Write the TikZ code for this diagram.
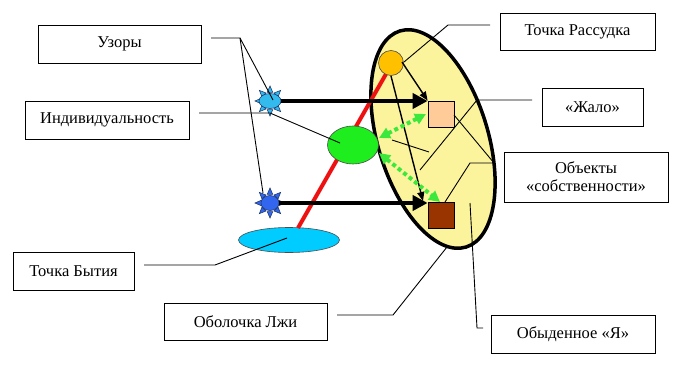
\documentclass[tikz,border=0pt]{standalone}
\usepackage{fontspec}
\setmainfont{Liberation Serif}
\newfontfamily\tnr{Liberation Serif}
\usetikzlibrary{arrows.meta,shapes.geometric,calc}
\definecolor{shellfill}{HTML}{FBF49C}
\definecolor{orangec}{HTML}{FFC000}
\definecolor{peach}{HTML}{FFCC99}
\definecolor{brownc}{HTML}{993300}
\definecolor{greenc}{HTML}{1EEE1E}
\definecolor{cyanc}{HTML}{00CCFF}
\definecolor{redc}{HTML}{EE1111}
\definecolor{greendot}{HTML}{3CE83C}
\definecolor{starA}{HTML}{33BBEE}
\definecolor{starB}{HTML}{3366EE}
\definecolor{starline}{HTML}{1F3A70}
\tikzset{
  lbl/.style={draw=black, line width=0.9pt, rectangle, inner sep=0pt, align=center,
    font=\tnr\fontsize{16.5}{20}\selectfont},
  leader/.style={draw=black, line width=0.9pt},
  thickarrow/.style={draw=black, line width=4.5pt, -{Triangle[length=15pt,width=15pt]}},
  thinarrow/.style={draw=black, line width=1.4pt, -{Triangle[length=9pt,width=7pt]}},
  greenarrow/.style={draw=greendot, line width=4pt, dash pattern=on 4pt off 3pt,
    {Triangle[length=11pt,width=11pt]}-{Triangle[length=11pt,width=11pt]}},
  startri/.style={line width=0.6pt, line join=miter},
}
\newcommand{\mystar}[4]{%
  \foreach \k in {0,45,...,315} {
    \filldraw[startri, fill=#3, draw=#4]
      ($(#1,#2)+(\k+18:9)$) -- ($(#1,#2)+(\k:15)$) -- ($(#1,#2)+(\k-18:9)$) -- cycle;
  }%
}
\begin{document}
\begin{tikzpicture}[x=1pt,y=-1pt]
\useasboundingbox (0,0) rectangle (684,366);
\fill[white] (0,0) rectangle (684,366);

% big shell (Обыденное Я)
\draw[fill=shellfill, line width=3.5pt, rotate around={17:(433,139)}]
  (433,139) ellipse [x radius=55, y radius=113];

% shape nodes
\node[ellipse, fill=cyanc, draw=black!70, line width=0.6pt, minimum width=101pt, minimum height=25pt, inner sep=0pt] (being) at (289,240) {};
\coordinate (beingtop) at (298,228);
\coordinate (reasonbot) at (386,74);
\draw[redc, line width=4pt] (beingtop) -- (reasonbot);
\node[circle, fill=orangec, draw=black!70, line width=0.6pt, minimum size=25pt, inner sep=0pt] (reason) at (391,63) {};
\node[ellipse, fill=greenc, draw=black!70, line width=0.6pt, minimum width=51pt, minimum height=38pt, inner sep=0pt] (indiv) at (353,145) {};
\node[rectangle, fill=peach, draw=black, line width=0.7pt, minimum size=26pt, inner sep=0pt] (sting) at (441,114) {};
\node[rectangle, fill=brownc, draw=black, line width=0.7pt, minimum size=26pt, inner sep=0pt] (prop) at (441,215) {};

% stars
\mystar{270}{101}{starA}{starline}
\node[ellipse, fill=starA, draw=starline, line width=0.6pt, minimum width=22pt, minimum height=15pt, inner sep=0pt] (star1) at (270,101) {};
\mystar{270}{203}{starB}{starline}
\node[ellipse, fill=starB, draw=starline, line width=0.6pt, minimum width=18pt, minimum height=15pt, inner sep=0pt] (star2) at (270,203) {};

% arrows
\draw[thickarrow] (star1.east) -- (sting.west |- star1.east);
\draw[thickarrow] (star2.east) -- (prop.west |- star2.east);
\coordinate (r1) at (402,62);
\coordinate (r2) at (391,76);
\draw[thinarrow] (r1) -- (sting.north west);
\coordinate (p2) at (423,201);
\draw[thinarrow] (r2) -- (p2);
\coordinate (g1a) at (379,138);
\coordinate (g1b) at (426,114);
\coordinate (g2a) at (379,153);
\coordinate (g2b) at (440,202);
\draw[greenarrow] (g1a) -- (g1b);
\draw[greenarrow] (g2a) -- (g2b);

% label boxes
\node[lbl, minimum width=163pt, minimum height=38pt] (uzory) at (119.5,44) {Узоры};
\node[lbl, minimum width=164pt, minimum height=38pt] (individ) at (107,120) {Индивидуальность};
\node[lbl, minimum width=121pt, minimum height=38pt] (tbytia) at (73.5,271) {Точка Бытия};
\node[lbl, minimum width=163pt, minimum height=37pt] (lzhi) at (245.5,321.5) {Оболочка Лжи};
\node[lbl, minimum width=155pt, minimum height=37pt] (trass) at (577.5,31.5) {Точка Рассудка};
\node[lbl, minimum width=101pt, minimum height=38pt] (zhalo) at (592.5,107) {«Жало»};
\node[lbl, minimum width=164pt, minimum height=50pt] (obj) at (586,177) {Объекты\\[-2pt]«собственности»};
\node[lbl, minimum width=164pt, minimum height=38pt] (obyd) at (573,334) {Обыденное «Я»};

% leaders
\coordinate (uz0) at (211,38); \coordinate (uz1) at (240,38);
\coordinate (s1p) at (273,100); \coordinate (s2p) at (263,193);
\draw[leader] (uz0) -- (uz1) -- (s1p);
\draw[leader] (uz1) -- (s2p);
\coordinate (in0) at (199,113); \coordinate (in1) at (270,113); \coordinate (in2) at (340,143);
\draw[leader] (in0) -- (in1) -- (in2);
\coordinate (tb0) at (144,265); \coordinate (tb1) at (215,265); \coordinate (tb2) at (287,238);
\draw[leader] (tb0) -- (tb1) -- (tb2);
\coordinate (lz0) at (337,315); \coordinate (lz1) at (393,315); \coordinate (lz2) at (447,247);
\draw[leader] (lz0) -- (lz1) -- (lz2);
\coordinate (tr0) at (490,25); \coordinate (tr1) at (448,25); \coordinate (tr2) at (404,62);
\draw[leader] (tr0) -- (tr1) -- (tr2);
\coordinate (zh0) at (532,100); \coordinate (zh1) at (477,100); \coordinate (zh2) at (420,170);
\draw[leader] (zh0) -- (zh1) -- (zh2);
\coordinate (ob0) at (494,163); \coordinate (ob1) at (470,163); \coordinate (ob2) at (445,202);
\coordinate (ob3) at (454,115);
\draw[leader] (ob0) -- (ob1) -- (ob2);
\draw[leader] (ob0) -- (ob3);
\coordinate (oy0) at (483,328); \coordinate (oy1) at (477,328); \coordinate (oy2) at (470,203);
\draw[leader] (oy0) -- (oy1) -- (oy2);
\coordinate (sh0) at (392,140); \coordinate (sh1) at (429,152);
\draw[leader] (sh0) -- (sh1);
\end{tikzpicture}
\end{document}
